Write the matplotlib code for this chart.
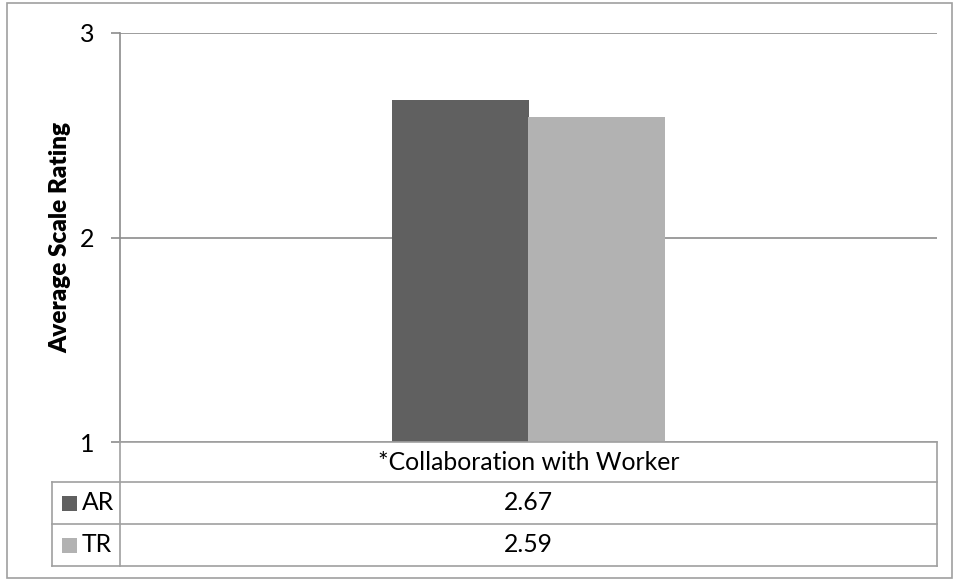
import matplotlib.pyplot as plt
from matplotlib.lines import Line2D
from matplotlib.patches import Rectangle

plt.rcParams.update({
    "font.family": ["Lato", "DejaVu Sans"],
    "font.size": 17,
})

# Data
category = "*Collaboration with Worker"
series = ["AR", "TR"]
values = [2.67, 2.59]
colors = ["#606060", "#b2b2b2"]

W, H = 954, 580
fig = plt.figure(figsize=(W / 100, H / 100), dpi=100)


def fx(px):
    return px / W


def fy(py):
    return 1 - py / H


# plot area in pixel units
left, right, top, bottom = 120, 937, 33, 442
ax = fig.add_axes([fx(left), fy(bottom), fx(right - left), fy(top) - fy(bottom)])

bar_w = 0.167
for i, (name, v, c) in enumerate(zip(series, values, colors)):
    ax.bar(0.5 + (i - 0.5) * bar_w, v - 1, bottom=1, width=bar_w, color=c, zorder=3)

ax.set_xlim(0, 1)
ax.set_ylim(1, 3)
ax.set_yticks([1, 2, 3])
ax.set_xticks([])
ax.yaxis.grid(True, color="#8c8c8c", linewidth=1.2, zorder=0)
for s in ["top", "right", "bottom"]:
    ax.spines[s].set_visible(False)
ax.spines["left"].set_color("#8c8c8c")
ax.spines["left"].set_linewidth(1.2)
ax.tick_params(axis="y", length=6.5, width=1.2, color="#8c8c8c", pad=12, labelsize=18)
ax.set_ylabel("Average Scale Rating", fontsize=17.5, fontweight="heavy",
              family=["Lato", "DejaVu Sans"], labelpad=6)

# data table below the plot
tc = "#a0a0a0"
lw = 1.2
rows_y = [442, 482, 524, 566]
tab_left = 52

def hline(x0, x1, y):
    fig.add_artist(Line2D([fx(x0), fx(x1)], [fy(y), fy(y)], color=tc, lw=lw))

def vline(x, y0, y1):
    fig.add_artist(Line2D([fx(x), fx(x)], [fy(y0), fy(y1)], color=tc, lw=lw))

hline(left, right, rows_y[0])
for y in rows_y[1:]:
    hline(tab_left, right, y)
vline(left, rows_y[0], rows_y[-1])
vline(right, rows_y[0], rows_y[-1])
vline(tab_left, rows_y[1], rows_y[-1])

mid_x = (left + right) / 2
fig.text(fx(mid_x), fy((rows_y[0] + rows_y[1]) / 2), category,
         ha="center", va="center", fontsize=17.8)
for i, (name, v, c) in enumerate(zip(series, values, colors)):
    yc = (rows_y[i + 1] + rows_y[i + 2]) / 2
    fig.text(fx(mid_x), fy(yc), f"{v:.2f}", ha="center", va="center", fontsize=17.8)
    fig.add_artist(Rectangle((fx(62), fy(yc + 7.5)), fx(15), fy(0) - fy(15),
                             facecolor=c, edgecolor="none", transform=fig.transFigure))
    fig.text(fx(82), fy(yc), name, ha="left", va="center", fontsize=17.8)

# outer chart border
fig.add_artist(Rectangle((fx(7), fy(578)), fx(945), fy(3) - fy(578), fill=False,
                         edgecolor="#a0a0a0", lw=1.2, transform=fig.transFigure))

fig.savefig("out.png", dpi=100)
